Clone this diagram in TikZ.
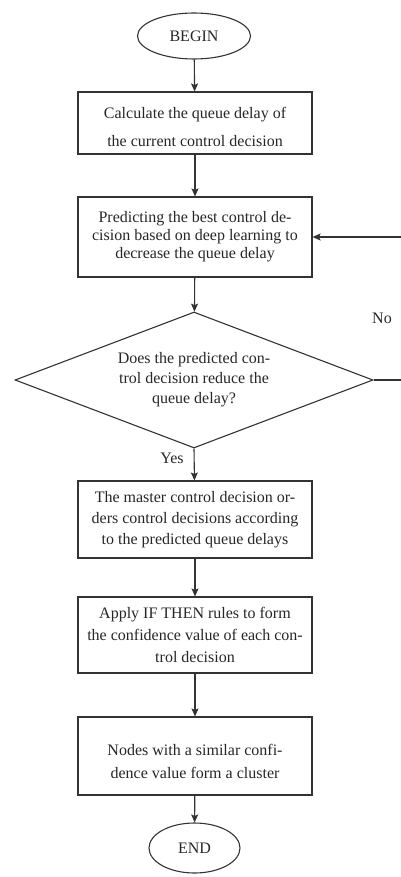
\documentclass[tikz,border=0pt]{standalone}
\usepackage{fontspec}
\setmainfont{Liberation Serif}
\usetikzlibrary{shapes.geometric,arrows.meta}

\begin{document}
\begin{tikzpicture}[x=1pt,y=-1pt,
  every node/.style={font=\fontsize{16}{20}\selectfont, text=black!85},
  flow/.style={draw=black!80, line width=1.1pt},
  terminal/.style={flow, ellipse, inner sep=0pt},
  stepbox/.style={flow, rectangle, minimum width=234pt, inner sep=0pt, align=center},
  decision/.style={flow, diamond, aspect=2.63, minimum width=358pt, minimum height=136pt, inner sep=0pt, align=center},
  link/.style={draw=black!80, line width=1.1pt, -{Stealth[length=8pt,width=7pt,inset=1.5pt]}},
  wire/.style={draw=black!80, line width=1.1pt}
]
\useasboundingbox (0,0) rectangle (400,877);

% terminals and process steps
\node[terminal, minimum width=113pt, minimum height=46pt] (begin) at (194,36) {BEGIN};

\node[stepbox, minimum height=62pt] (calc) at (195,123) {};
\node[font=\fontsize{16}{28}\selectfont, align=center] (calctext) at (195,127)
  {Calculate the queue delay of\\the current control decision};

\node[stepbox, minimum height=80pt, font=\fontsize{16}{18}\selectfont] (predict) at (195,237)
  {Predicting the best control de-\\cision based on deep learning to\\decrease the queue delay};

\node[decision, font=\fontsize{16}{20}\selectfont] (check) at (194,380)
  {Does the predicted con-\\trol decision reduce the\\queue delay?};

\node[stepbox, minimum height=77pt, font=\fontsize{16}{21}\selectfont] (order) at (195,519.5)
  {The master control decision or-\\ders control decisions according\\to the predicted queue delays};

\node[stepbox, minimum height=76pt, font=\fontsize{16}{22}\selectfont] (rules) at (195,635)
  {Apply IF THEN rules to form\\the confidence value of each con-\\trol decision};

\node[stepbox, minimum height=78pt] (cluster) at (195,756) {};
\node[font=\fontsize{16}{23}\selectfont, align=center] (clustertext) at (195,761)
  {Nodes with a similar confi-\\dence value form a cluster};

\node[terminal, minimum width=91pt, minimum height=50pt] (end) at (194.5,848) {END};

% branch labels
\node (yes) at (172,458) {Yes};
\node (no) at (382,318) {No};

% feedback route runs past the right edge of the page
\coordinate (loopA) at (412,380);
\coordinate (loopB) at (412,237);

% connectors
\draw[link] (begin) -- (calc);
\draw[link] (calc) -- (predict);
\draw[link] (predict) -- (check);
\draw[link] (check.south) -- (order);
\draw[link] (order) -- (rules);
\draw[link] (rules) -- (cluster);
\draw[link] (cluster) -- (end);
\draw[link] (check.east) -- (loopA) -- (loopB) -- (predict.east);
\end{tikzpicture}
\end{document}
